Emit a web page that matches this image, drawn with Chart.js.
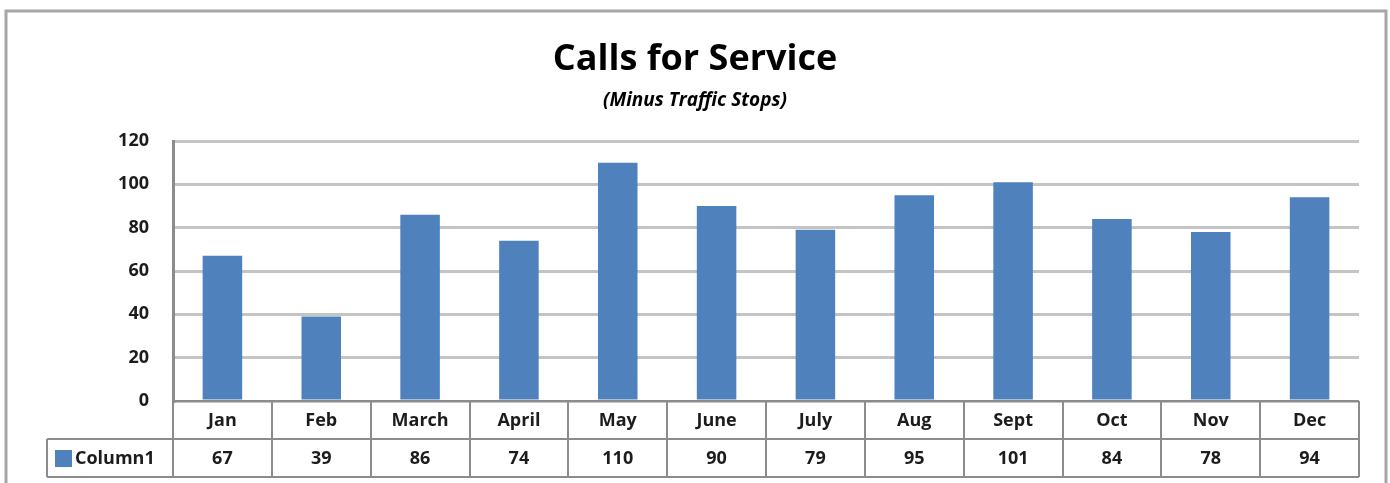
<!DOCTYPE html>
<html>
<head>
<meta charset="utf-8">
<title>Calls for Service</title>
<script src="https://cdn.jsdelivr.net/npm/chart.js@4.4.0/dist/chart.umd.min.js"></script>
<style>
    html, body { margin: 0; padding: 0; background: #fff; }
    #wrap { width: 1390px; height: 483px; }
</style>
</head>
<body>
<div id="wrap"><canvas id="callsChart" width="1390" height="483"></canvas></div>
<script>
// Monthly calls for service, traffic stops excluded
const months = ['Jan', 'Feb', 'March', 'April', 'May', 'June', 'July', 'Aug', 'Sept', 'Oct', 'Nov', 'Dec'];
const column1 = [67, 39, 86, 74, 110, 90, 79, 95, 101, 84, 78, 94];
const yTicks = [0, 20, 40, 60, 80, 100, 120];
const seriesName = 'Column1';

const barColor = '#4f81bd';
const textColor = '#1c1c1c';
const tableLine = '#8c8c8c';
const labelFont = 'bold 18px "Open Sans", sans-serif';

// outer frame around the whole chart
const framePlugin = {
    id: 'frame',
    beforeDraw(chart) {
        const ctx = chart.ctx;
        ctx.save();
        ctx.strokeStyle = '#a6a6a6';
        ctx.lineWidth = 3;
        ctx.strokeRect(6, 11, 1380, 490);
        ctx.restore();
    }
};

// data table under the plot, built from the x scale columns
const dataTablePlugin = {
    id: 'dataTable',
    afterDraw(chart) {
        const ctx = chart.ctx;
        const area = chart.chartArea;
        const xScale = chart.scales.x;
        const colW = (area.right - area.left) / months.length;
        const rowH = 38;
        const top = area.bottom;
        const mid = top + rowH;
        const bottom = mid + rowH;
        const legendLeft = 47;

        ctx.save();
        ctx.strokeStyle = tableLine;
        ctx.lineWidth = 2;
        ctx.beginPath();
        ctx.moveTo(area.left, top);
        ctx.lineTo(area.right, top);
        ctx.moveTo(legendLeft, mid);
        ctx.lineTo(area.right, mid);
        ctx.moveTo(legendLeft, bottom);
        ctx.lineTo(area.right, bottom);
        ctx.moveTo(legendLeft, mid);
        ctx.lineTo(legendLeft, bottom);
        for (let i = 0; i <= months.length; i++) {
            const x = Math.round(area.left + i * colW);
            ctx.moveTo(x, top);
            ctx.lineTo(x, bottom);
        }
        ctx.stroke();

        ctx.fillStyle = textColor;
        ctx.font = labelFont;
        ctx.textAlign = 'center';
        ctx.textBaseline = 'middle';
        months.forEach((m, i) => {
            const cx = xScale.getPixelForValue(i);
            ctx.fillText(m, cx, top + rowH / 2 + 1);
            ctx.fillText(String(column1[i]), cx, mid + rowH / 2 + 1);
        });

        // legend key
        ctx.fillStyle = barColor;
        ctx.fillRect(55, mid + 11, 17, 17);
        ctx.fillStyle = textColor;
        ctx.textAlign = 'left';
        ctx.fillText(seriesName, 75, mid + rowH / 2 + 1);
        ctx.restore();
    }
};

new Chart(document.getElementById('callsChart').getContext('2d'), {
    type: 'bar',
    data: {
        labels: months,
        datasets: [{
            label: seriesName,
            data: column1,
            backgroundColor: barColor,
            barPercentage: 0.4,
            categoryPercentage: 1.0
        }]
    },
    options: {
        responsive: false,
        animation: false,
        layout: {
            padding: { top: 0, left: 31, right: 31, bottom: 82 }
        },
        plugins: {
            legend: { display: false },
            tooltip: { enabled: false },
            title: {
                display: true,
                text: 'Calls for Service',
                color: '#000',
                font: { family: '"Open Sans", sans-serif', size: 36, weight: 'bold', lineHeight: 1.2 },
                padding: { top: 38, bottom: 4 }
            },
            subtitle: {
                display: true,
                text: '(Minus Traffic Stops)',
                color: '#000',
                font: { family: '"Open Sans", sans-serif', size: 19, weight: 'bold', style: 'italic', lineHeight: 1.2 },
                padding: { top: 4, bottom: 29 }
            }
        },
        scales: {
            x: {
                display: false
            },
            y: {
                min: 0,
                max: 120,
                afterBuildTicks(scale) {
                    scale.ticks = yTicks.map(v => ({ value: v }));
                },
                afterFit(scale) {
                    scale.width = 142;
                },
                grid: {
                    color: '#c4c4c4',
                    lineWidth: 3,
                    drawTicks: false
                },
                border: {
                    display: true,
                    color: '#8c8c8c',
                    width: 3
                },
                ticks: {
                    color: textColor,
                    padding: 24,
                    font: { family: '"Open Sans", sans-serif', size: 18, weight: 'bold' }
                }
            }
        }
    },
    plugins: [framePlugin, dataTablePlugin]
});
</script>
</body>
</html>
